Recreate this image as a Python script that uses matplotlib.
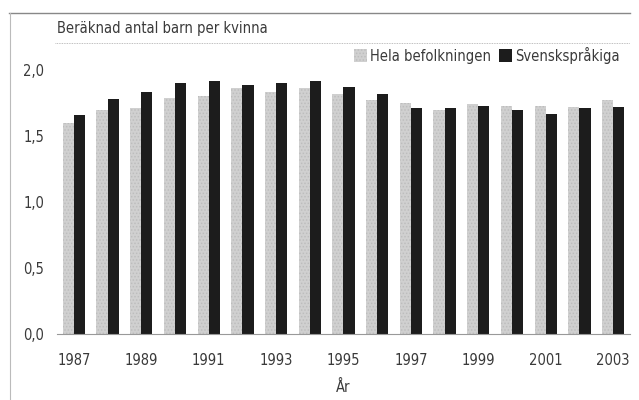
import numpy as np
import matplotlib
matplotlib.use("Agg")
import matplotlib.pyplot as plt
from matplotlib.lines import Line2D
from matplotlib.patches import Patch

plt.rcParams['font.family'] = ['DejaVu Sans']
plt.rcParams['font.stretch'] = 'condensed'
plt.rcParams['hatch.color'] = '#7f7f7f'
plt.rcParams['hatch.linewidth'] = 0.7

years = np.arange(1987, 2004)
hela = [1.60, 1.70, 1.71, 1.79, 1.80, 1.86, 1.83, 1.86, 1.82, 1.77,
        1.75, 1.70, 1.74, 1.73, 1.73, 1.72, 1.77]
svensk = [1.66, 1.78, 1.83, 1.90, 1.92, 1.89, 1.90, 1.92, 1.87, 1.82,
          1.71, 1.71, 1.73, 1.70, 1.67, 1.71, 1.72]
yticks = [0.0, 0.5, 1.0, 1.5, 2.0]
ytick_labels = ["0,0", "0,5", "1,0", "1,5", "2,0"]

txt = '#3a3a3a'
gray = '#d0d0d0'
fig = plt.figure(figsize=(6.39, 4.0), dpi=100)
ax = fig.add_axes([57 / 639, 66 / 400, 573 / 639, 264 / 400])

w = 0.33
ax.bar(years - w / 2, hela, width=w, color=gray, hatch='.....',
       edgecolor='#bdbdbd', linewidth=0, label='Hela befolkningen')
ax.bar(years + w / 2, svensk, width=w, color='#1c1c1c',
       linewidth=0, label='Svenskspråkiga')

ax.set_xlim(1986.5, 2003.5)
ax.set_ylim(0, 2.0)
ax.set_yticks(yticks)
ax.set_yticklabels(ytick_labels)
ax.set_xticks(years[::2])
ax.tick_params(length=0, labelsize=10.5, colors=txt)
ax.tick_params(axis='y', pad=9)
ax.tick_params(axis='x', pad=14)
for s in ['top', 'right', 'left']:
    ax.spines[s].set_visible(False)
ax.spines['bottom'].set_color('#999999')
ax.spines['bottom'].set_linewidth(0.8)

ax.set_xlabel('År', fontsize=10.5, color=txt, labelpad=8)

fig.text(57 / 639, 1 - 28 / 400, 'Beräknad antal barn per kvinna',
         fontsize=10.5, color=txt, va='center', ha='left')

# frame lines and dotted rule under title
fig.add_artist(Line2D([9 / 639, 630 / 639], [1 - 13 / 400, 1 - 13 / 400],
                      color='#888888', lw=1))
fig.add_artist(Line2D([10 / 639, 10 / 639], [0, 1 - 13 / 400],
                      color='#bbbbbb', lw=0.8))
fig.add_artist(Line2D([55 / 639, 630 / 639], [1 - 43 / 400, 1 - 43 / 400],
                      color='#aaaaaa', lw=0.6, ls=(0, (1, 1))))

handles = [Patch(facecolor=gray, hatch='.....', edgecolor='#bdbdbd', lw=0),
           Patch(facecolor='#1c1c1c', lw=0)]
fig.legend(handles, ['Hela befolkningen', 'Svenskspråkiga'],
           loc='center right', bbox_to_anchor=(620 / 639, 1 - 55 / 400),
           ncol=2, frameon=False, fontsize=10.5, handlelength=0.9,
           handleheight=0.9, handletextpad=0.2, columnspacing=0.6,
           labelcolor=txt, borderaxespad=0, borderpad=0)

fig.savefig('out.png', dpi=100)
